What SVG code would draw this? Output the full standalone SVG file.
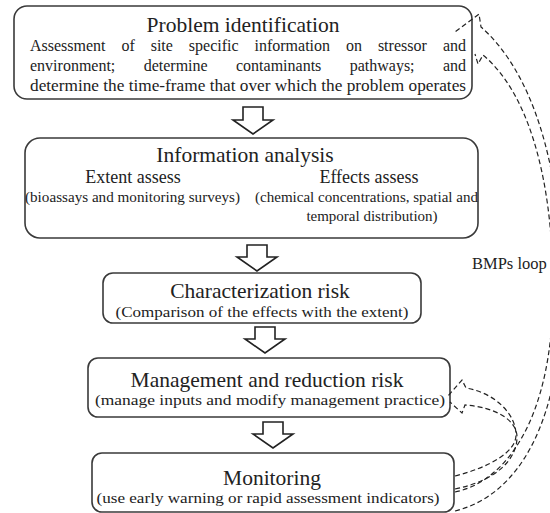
<svg xmlns="http://www.w3.org/2000/svg" width="550" height="513" viewBox="0 0 550 513">
<defs>
<style>
.box{fill:#fff;stroke:#3a3a3a;stroke-width:1.6}
.t{font-family:"Liberation Serif","Times New Roman",serif;fill:#222}
.h{font-size:21.5px;text-anchor:middle}
.s{font-size:15px}
.b{font-size:16px}
.m{font-size:18px;text-anchor:middle}
.c{text-anchor:middle}
.arr{fill:#fff;stroke:#222;stroke-width:1.6;stroke-linejoin:miter}
.d{fill:none;stroke:#222;stroke-width:1.2;stroke-dasharray:5 3}
</style>
</defs>
<rect width="550" height="513" fill="#fff"/>

<g id="problem">
<rect class="box" x="14" y="6" width="458" height="93" rx="13"/>
<text class="t h" x="243" y="32">Problem identification</text>
<text class="t b" y="51"><tspan x="30">Assessment</tspan><tspan x="121.5">of</tspan><tspan x="150.7">site</tspan><tspan x="188.8">specific</tspan><tspan x="254.5">information</tspan><tspan x="346">on</tspan><tspan x="377.9">stressor</tspan><tspan x="466" text-anchor="end">and</tspan></text>
<text class="t b" y="71"><tspan x="30">environment;</tspan><tspan x="143.7">determine</tspan><tspan x="236">contaminants</tspan><tspan x="349.7">pathways;</tspan><tspan x="466" text-anchor="end">and</tspan></text>
<text class="t b" x="30" y="91" textLength="436" lengthAdjust="spacingAndGlyphs">determine the time-frame that over which the problem operates</text>
</g>

<g id="information">
<rect class="box" x="25" y="138" width="453" height="100" rx="15"/>
<text class="t h" x="245" y="162">Information analysis</text>
<text class="t m" x="133" y="183">Extent assess</text>
<text class="t m" x="369" y="183">Effects assess</text>
<text class="t s" x="25" y="202" textLength="215" lengthAdjust="spacingAndGlyphs">(bioassays and monitoring surveys)</text>
<text class="t s" x="255" y="202" textLength="223" lengthAdjust="spacingAndGlyphs">(chemical concentrations, spatial and</text>
<text class="t s c" x="372" y="221">temporal distribution)</text>
</g>

<g id="characterization">
<rect class="box" x="103" y="273" width="318" height="50" rx="10"/>
<text class="t h" x="260" y="298">Characterization risk</text>
<text class="t s c" x="262" y="317" textLength="293" lengthAdjust="spacingAndGlyphs">(Comparison of the effects with the extent)</text>
</g>

<g id="management">
<rect class="box" x="88" y="358" width="362" height="59" rx="10"/>
<text class="t h" x="267" y="387">Management and reduction risk</text>
<text class="t s c" x="270" y="405" textLength="350" lengthAdjust="spacingAndGlyphs">(manage inputs and modify management practice)</text>
</g>

<g id="monitoring">
<rect class="box" x="92" y="453" width="362" height="59" rx="10"/>
<text class="t h" x="272" y="485">Monitoring</text>
<text class="t s c" x="268" y="503" textLength="343" lengthAdjust="spacingAndGlyphs">(use early warning or rapid assessment indicators)</text>
</g>

<g id="bmps-label">
<text class="t" x="472" y="269" font-size="16.5">BMPs loop</text>
</g>

<g id="connectors">
<path class="arr" d="M243,107 H263 V120 H273 L253,134 L233,120 H243 Z"/>
<path class="arr" d="M247,245 H267 V257 H277 L257,271 L237,257 H247 Z"/>
<path class="arr" d="M255,327 H275 V339 H285 L265,353 L245,339 H255 Z"/>
<path class="arr" d="M263,422 H283 V434 H293 L273,448 L253,434 H263 Z"/>

<path class="d" d="M455,511 C520,495 562,420 562,290 C562,160 530,70 481,27 L479,14 L455,32"/>
<path class="d" d="M455,492 C505,482 553,420 553,290 C553,170 525,90 483,55 L478,64 L475,54"/>
<path class="d" d="M455,476 C490,467 516,452 516,435 C516,414 495,393 466,388 L462,380 L448,396"/>
<path class="d" d="M455,489 C495,481 517,460 517,437 C517,420 495,407 465,405 L462,413 L450,402"/>
</g>
</svg>
